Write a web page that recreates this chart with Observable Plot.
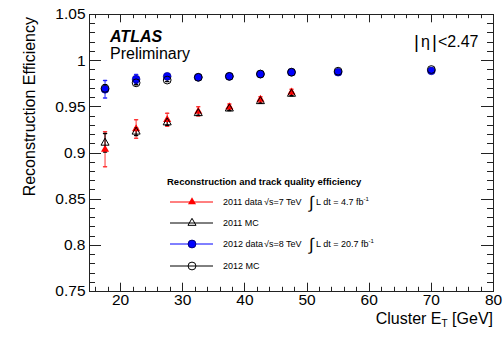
<!DOCTYPE html>
<html><head><meta charset="utf-8">
<script src="https://cdn.jsdelivr.net/npm/d3@7"></script>
<script src="https://cdn.jsdelivr.net/npm/@observablehq/plot@0.6"></script>
<style>body{margin:0;background:#fff;} #chart{width:503px;height:337px;}</style>
</head><body><div id="chart"></div>
<script>
// ---- data ----
const etBins2011 = [17.5, 22.5, 27.5, 32.5, 37.5, 42.5, 47.5];
const etBins2012 = [17.5, 22.5, 27.5, 32.5, 37.5, 42.5, 47.5, 55, 70];
const eff2011Data = [0.904, 0.926, 0.936, 0.945, 0.950, 0.958, 0.966];
const err2011Data = [0.019, 0.010, 0.007, 0.005, 0.003, 0.003, 0.003];
const eff2011MC   = [0.911, 0.923, 0.933, 0.943, 0.948, 0.956, 0.964];
const err2011MC   = [0.010, 0.004, 0.003, 0.002, 0.002, 0.002, 0.002];
const eff2012Data = [0.969, 0.980, 0.983, 0.982, 0.983, 0.9855, 0.9875, 0.9875, 0.989];
const err2012Data = [0.0095, 0.005, 0.003, 0.0015, 0.0012, 0.001, 0.001, 0.001, 0.001];
const eff2012MC   = [0.970, 0.976, 0.979, 0.982, 0.983, 0.9855, 0.9875, 0.9886, 0.9904];
const err2012MC   = [0.004, 0.002, 0.0015, 0.001, 0.001, 0.001, 0.001, 0.001, 0.001];
const xTicks = [20, 30, 40, 50, 60, 70, 80];
const yTicks = [0.75, 0.8, 0.85, 0.9, 0.95, 1, 1.05];
const xDomain = [15, 80];
const yDomain = [0.75, 1.05];

const rows = (xs, ys, es) => xs.map((x, i) => ({x, y: ys[i], e: es[i]}));
const d11 = rows(etBins2011, eff2011Data, err2011Data);
const m11 = rows(etBins2011, eff2011MC, err2011MC);
const d12 = rows(etBins2012, eff2012Data, err2012Data);
const m12 = rows(etBins2012, eff2012MC, err2012MC);

const xMinor = d3.range(16, 80, 2).filter(v => v % 10 !== 0);
const yMinor = d3.range(76, 105, 1).filter(v => v % 5 !== 0).map(v => v / 100);

const line = {draw(ctx, l) { ctx.moveTo(0, 0); ctx.lineTo(0, -l); }};
const FRAME = "#222";
const font = "'Liberation Sans', Arial, Helvetica, sans-serif";

const errBars = (data, color) => [
  Plot.ruleX(data, {x: "x", y1: d => d.y - d.e, y2: d => d.y + d.e, stroke: color}),
  Plot.vector(data, {x: "x", y: d => d.y - d.e, rotate: 90, anchor: "middle", length: 3, shape: line, stroke: color}),
  Plot.vector(data, {x: "x", y: d => d.y + d.e, rotate: 90, anchor: "middle", length: 3, shape: line, stroke: color})
];

const ML = 89, MR = 10, MT = 14, MB = 46, W = 503, H = 337;
const plot = Plot.plot({
  width: W, height: H,
  marginLeft: ML, marginRight: MR, marginTop: MT, marginBottom: MB,
  x: {domain: xDomain},
  y: {domain: yDomain},
  style: {fontFamily: font, background: "white", color: "black"},
  marks: [
    Plot.axisX({ticks: xTicks, tickSize: 0, tickPadding: 2, fontSize: 15.5, label: null}),
    Plot.axisY({ticks: yTicks, tickSize: 0, tickPadding: 4, fontSize: 15.5, label: null,
                tickFormat: d => String(+d.toFixed(2))}),
    ...errBars(d11, "#f33"),
    ...errBars(m11, "#000"),
    ...errBars(d12, "#22f"),
    ...errBars(m12, "#000"),
    Plot.dot(d11, {x: "x", y: "y", symbol: "triangle", r: 3, fill: "red", stroke: "none"}),
    Plot.dot(m11, {x: "x", y: "y", symbol: "triangle", r: 3, fill: "none", stroke: "black", strokeWidth: 1}),
    Plot.dot(d12, {x: "x", y: "y", symbol: "circle", r: 3.9, fill: "#0000ff", stroke: "#00007a", strokeWidth: 0.6}),
    Plot.dot(m12, {x: "x", y: "y", symbol: "circle", r: 3.9, fill: "none", stroke: "black", strokeWidth: 1}),
    Plot.frame({stroke: FRAME})
  ]
});
document.getElementById("chart").appendChild(plot);

// ---- inward ticks on all four sides, positioned with the plot's own scales ----
const sx = plot.scale("x"), sy = plot.scale("y");
const px = v => sx.apply ? sx.apply(v) : d3.scaleLinear(xDomain, [ML, W - MR])(v);
const py = v => sy.apply ? sy.apply(v) : d3.scaleLinear(yDomain, [H - MB, MT])(v);
const svg = d3.select(plot);
const tg = svg.append("g").attr("stroke", FRAME).attr("stroke-width", 1);
const L = ML, R = W - MR, T = MT, B = H - MB;
for (const [vals, len] of [[yTicks, 12], [yMinor, 6]]) {
  for (const v of vals) {
    const y = Math.round(py(v)) + 0.5;
    tg.append("line").attr("x1", L).attr("x2", L + len).attr("y1", y).attr("y2", y);
    tg.append("line").attr("x1", R).attr("x2", R - len).attr("y1", y).attr("y2", y);
  }
}
for (const [vals, len] of [[xTicks, 8.3], [xMinor, 4.2]]) {
  for (const v of vals) {
    const x = Math.round(px(v)) + 0.5;
    tg.append("line").attr("x1", x).attr("x2", x).attr("y1", B).attr("y2", B - len);
    tg.append("line").attr("x1", x).attr("x2", x).attr("y1", T).attr("y2", T + len);
  }
}

// ---- annotations ----
const g = svg.append("g").attr("font-family", font).attr("fill", "black").attr("text-anchor", "start");

// axis titles
g.append("text").attr("transform", "translate(34.5,17) rotate(-90)")
  .attr("text-anchor", "end").attr("font-size", 16).text("Reconstruction Efficiency");
const xt = g.append("text").attr("x", 493).attr("y", 324).attr("text-anchor", "end").attr("font-size", 16);
xt.append("tspan").text("Cluster E");
xt.append("tspan").attr("font-size", 10).attr("dy", 3).text("T");
xt.append("tspan").attr("dy", -3).text(" [GeV]");

// ATLAS label
g.append("text").attr("x", 110).attr("y", 41.5).attr("font-size", 16)
  .attr("font-weight", "bold").attr("font-style", "italic").text("ATLAS");
g.append("text").attr("x", 110).attr("y", 59).attr("font-size", 16).text("Preliminary");

// |eta| < 2.47
const eta = g.append("text").attr("y", 46.5).attr("font-size", 16);
eta.append("tspan").attr("x", 414).attr("font-size", 19).attr("dy", 1).text("|");
eta.append("tspan").attr("x", 421).attr("dy", -1).text("η");
eta.append("tspan").attr("x", 432).attr("font-size", 19).attr("dy", 1).text("|");
eta.append("tspan").attr("x", 438).attr("dy", -1).text("<2.47");

// legend
g.append("text").attr("x", 167).attr("y", 184.5).attr("font-size", 9.5)
  .attr("font-weight", "bold").text("Reconstruction and track quality efficiency");

const legendRows = [
  {y: 202, color: "red", sym: "triangle", fill: "red", stroke: "none", label: "2011 data", energy: "√s=7 TeV", lumi: "L dt = 4.7 fb"},
  {y: 223, color: "black", sym: "triangle", fill: "none", stroke: "black", label: "2011 MC"},
  {y: 244, color: "blue", sym: "circle", fill: "#0000ff", stroke: "#00007a", label: "2012 data", energy: "√s=8 TeV", lumi: "L dt = 20.7 fb"},
  {y: 266, color: "black", sym: "circle", fill: "none", stroke: "black", label: "2012 MC"}
];
for (const r of legendRows) {
  g.append("line").attr("x1", 170).attr("x2", 213).attr("y1", r.y).attr("y2", r.y)
    .attr("stroke", r.color).attr("stroke-width", 1);
  const sym = r.sym === "triangle" ? d3.symbolTriangle : d3.symbolCircle;
  const size = r.sym === "triangle" ? Math.PI * 3 * 3 : Math.PI * 3.9 * 3.9;
  g.append("path").attr("d", d3.symbol(sym, size)()).attr("transform", `translate(192,${r.y})`)
    .attr("fill", r.fill).attr("stroke", r.stroke);
  const t = g.append("text").attr("y", r.y + 3.3).attr("font-size", 9);
  t.append("tspan").attr("x", 223).text(r.label);
  if (r.energy) {
    t.append("tspan").attr("x", 264).text(r.energy);
    t.append("tspan").attr("x", 309).attr("font-size", 17).attr("dy", 2.5).text("∫");
    t.append("tspan").attr("x", 316).attr("dy", -2.5).text(r.lumi);
    t.append("tspan").attr("font-size", 6).attr("dy", -4).text("-1");
  }
}
</script>
</body></html>
